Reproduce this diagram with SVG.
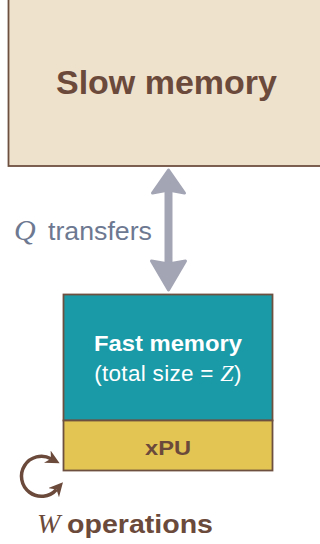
<svg xmlns="http://www.w3.org/2000/svg" width="320" height="544" viewBox="0 0 320 544">
  <style>
    .box { stroke: #6e5040; stroke-width: 1.8; }
    .sans { font-family: "Liberation Sans", Arial, sans-serif; }
    .ital { font-family: "Liberation Serif", "Times New Roman", serif; font-style: italic; }
    .brown { fill: #6b4a3b; }
  </style>
  <defs>
    <marker id="loopHead" viewBox="0 0 10 10" refX="3" refY="5" markerWidth="4" markerHeight="4" orient="auto-start-reverse" markerUnits="strokeWidth">
      <path d="M0,0 L10,5 L0,10 L3,5 Z" fill="#6b4a3b"/>
    </marker>
  </defs>

  <g id="slow-memory">
    <rect class="box" x="8.5" y="-2" width="320" height="168" fill="#efe2cd"/>
    <text class="sans brown" x="166.5" y="94" font-size="32.5" font-weight="bold" text-anchor="middle" textLength="221" lengthAdjust="spacingAndGlyphs">Slow memory</text>
  </g>

  <g id="connectors">
    <g id="transfer-arrow" fill="#a3a5b5" stroke="#a3a5b5" stroke-width="3" stroke-linejoin="round">
      <rect x="164.5" y="188" width="8" height="76" stroke="none"/>
      <path d="M168.5,170 L184.5,193 L168.5,190 L152.5,193 Z"/>
      <path d="M168.5,290 L185.5,261 L168.5,264 L151.5,261 Z"/>
    </g>
    <path id="loop-arrow" d="M56.5,489.5 A20,20 0 1 1 51,458.7" fill="none" stroke="#6b4a3b" stroke-width="3.5" marker-start="url(#loopHead)" marker-end="url(#loopHead)"/>
  </g>

  <g id="q-label">
    <text x="14" y="240" font-size="26" fill="#6d7891"><tspan class="ital" font-size="30">Q</tspan><tspan class="sans" x="48" textLength="104" lengthAdjust="spacingAndGlyphs">transfers</tspan></text>
  </g>

  <g id="fast-memory">
    <rect class="box" x="63.5" y="294.5" width="209" height="126" fill="#1a99a7"/>
    <text class="sans" x="168" y="351" font-size="22.5" font-weight="bold" fill="#ffffff" text-anchor="middle" textLength="148" lengthAdjust="spacingAndGlyphs">Fast memory</text>
    <text class="sans" x="168" y="381" font-size="22.5" fill="#ffffff" text-anchor="middle" letter-spacing="0.3">(total size = <tspan class="ital" font-size="24">Z</tspan>)</text>
  </g>

  <g id="xpu">
    <rect class="box" x="63.5" y="420.5" width="209" height="50" fill="#e3c554"/>
    <text class="sans brown" x="168" y="455" font-size="21" font-weight="bold" text-anchor="middle" textLength="46" lengthAdjust="spacingAndGlyphs">xPU</text>
  </g>

  <g id="w-label">
    <text x="37" y="533" font-size="26" class="brown"><tspan class="ital" font-size="28">W</tspan><tspan class="sans" font-weight="bold" x="67" textLength="146" lengthAdjust="spacingAndGlyphs">operations</tspan></text>
  </g>
</svg>
